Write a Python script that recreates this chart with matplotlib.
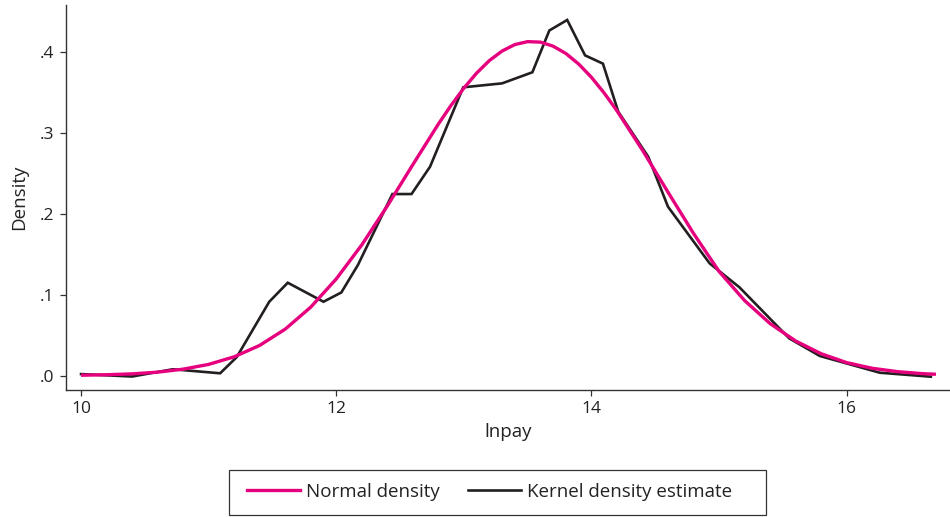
import matplotlib.pyplot as plt
from matplotlib.lines import Line2D
from matplotlib.patches import Rectangle

plt.rcParams['font.family'] = ['Open Sans', 'DejaVu Sans']

# kernel density estimate of lnpay (vertices of the polyline)
kde_x = [10.0, 10.40, 10.72, 11.09, 11.22, 11.475, 11.62, 11.90, 12.04, 12.17,
         12.44, 12.59, 12.735, 12.995, 13.30, 13.537, 13.67, 13.81, 13.95, 14.09,
         14.21, 14.445, 14.60, 14.926, 15.16, 15.55, 15.79, 16.26, 16.66]
kde_y = [0.002, -0.001, 0.008, 0.003, 0.023, 0.0915, 0.115, 0.0915, 0.103, 0.137,
         0.2247, 0.2247, 0.2585, 0.3567, 0.3616, 0.3753, 0.427, 0.440, 0.3962, 0.386,
         0.3265, 0.2709, 0.209, 0.139, 0.1093, 0.0462, 0.0244, 0.0037, -0.0012]

# normal density curve, read at regular points
norm_x = [10.0, 10.2, 10.4, 10.6, 10.8, 11.0, 11.2, 11.4, 11.6, 11.8,
          12.0, 12.2, 12.4, 12.6, 12.8, 12.9, 13.0, 13.1, 13.2, 13.3,
          13.4, 13.5, 13.6, 13.7, 13.8, 13.9, 14.0, 14.1, 14.2, 14.4,
          14.6, 14.8, 15.0, 15.2, 15.4, 15.6, 15.8, 16.0, 16.2, 16.4,
          16.6, 16.7]
norm_y = [0.0006, 0.0012, 0.0023, 0.0044, 0.0081, 0.0140, 0.0234, 0.0375, 0.0576, 0.0848,
          0.1197, 0.1618, 0.2099, 0.2610, 0.3112, 0.3344, 0.3557, 0.3743, 0.3898, 0.4016,
          0.4096, 0.4132, 0.4126, 0.4076, 0.3985, 0.3855, 0.3691, 0.3496, 0.3277, 0.2789,
          0.2270, 0.1760, 0.1290, 0.0930, 0.0645, 0.0430, 0.0272, 0.0162, 0.0092, 0.0050,
          0.0025, 0.0018]

x_ticks = [10, 12, 14, 16]
y_ticks = [0.0, 0.1, 0.2, 0.3, 0.4]
y_tick_labels = ['.0', '.1', '.2', '.3', '.4']

pink = '#e6007e'
dark = '#231f20'

W, H = 950, 517
fig = plt.figure(figsize=(W / 100, H / 100), dpi=100)
ax = fig.add_axes([0.0692, 0.2456, 0.9308, 0.7447])

ax.plot(norm_x, norm_y, color=pink, lw=2.4, solid_capstyle='butt', zorder=3)
ax.plot(kde_x, kde_y, color=dark, lw=1.9, solid_joinstyle='miter', zorder=2)

ax.set_xlim(9.88, 16.81)
ax.set_ylim(-0.0177, 0.4585)
ax.set_xticks(x_ticks)
ax.set_yticks(y_ticks)
ax.set_yticklabels(y_tick_labels)

for side in ['top', 'right']:
    ax.spines[side].set_visible(False)
for side in ['left', 'bottom']:
    ax.spines[side].set_color('#333333')
    ax.spines[side].set_linewidth(1.0)

ax.tick_params(direction='out', length=4, width=0.9, color='#333333',
               labelsize=12.5, labelcolor='#222222', pad=4)
ax.set_xlabel('lnpay', fontsize=13.5, color='#222222', labelpad=4)
ax.set_ylabel('Density', fontsize=13.5, color='#222222', labelpad=9)

# legend entries without frame, box drawn separately
handles = [Line2D([], [], color=pink, lw=2.4),
           Line2D([], [], color=dark, lw=1.9)]
leg = fig.legend(handles, ['Normal density', 'Kernel density estimate'],
                 loc='center left', bbox_to_anchor=(247 / W, 1 - 492 / H), ncol=2,
                 frameon=False, fontsize=13.5, handlelength=2.85,
                 handletextpad=0.3, columnspacing=1.5, borderpad=0,
                 borderaxespad=0)
for t in leg.get_texts():
    t.set_color('#222222')
fig.add_artist(Rectangle((229 / W, 2 / H), (766 - 229) / W, 45 / H,
                         transform=fig.transFigure, fill=False,
                         edgecolor='#333333', linewidth=0.9))

fig.savefig('out.png', dpi=100)
